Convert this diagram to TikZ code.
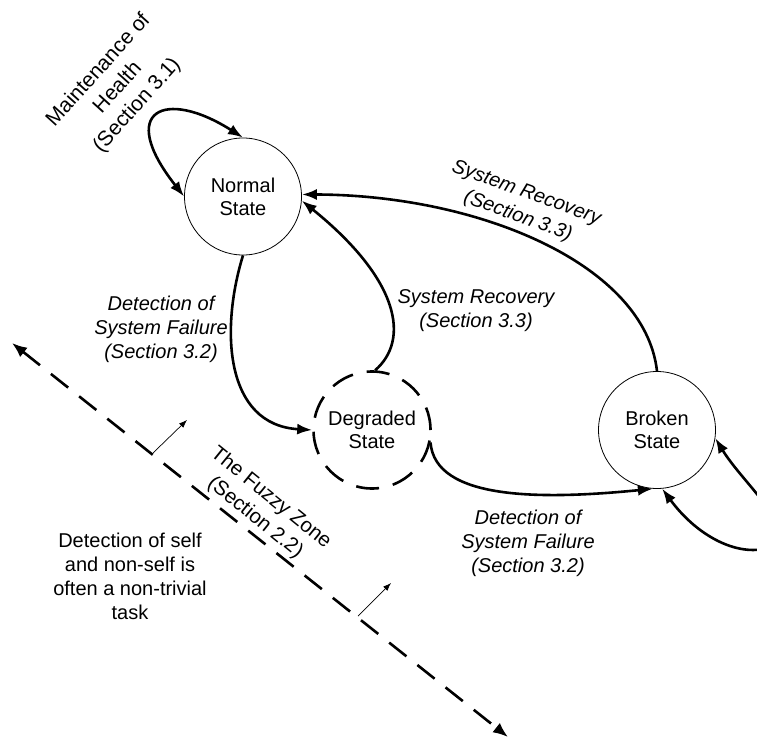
\documentclass[tikz,border=0pt]{standalone}
\usepackage{fontspec}
\setmainfont{Liberation Sans}
\usetikzlibrary{arrows.meta}
\begin{document}
\begin{tikzpicture}[x=1pt,y=-1pt,
  state/.style={circle,draw,line width=0.8pt,minimum size=117pt,inner sep=0pt,align=center,font=\fontsize{20}{23}\selectfont},
  degr/.style={state,line width=2.6pt,dash pattern=on 23pt off 14.1pt},
  edge/.style={line width=2.6pt,-{Latex[length=15pt,width=11pt]}},
  twoedge/.style={line width=2.6pt,{Latex[length=15pt,width=11pt]}-{Latex[length=15pt,width=11pt]}},
  lbl/.style={align=center,font=\fontsize{20}{24}\selectfont\itshape},
  txt/.style={align=center,font=\fontsize{20}{24}\selectfont},
  thinarrow/.style={line width=0.7pt,-{Latex[length=8pt,width=6pt]}},
  zone/.style={line width=2.6pt,dash pattern=on 22pt off 14pt,{Latex[length=15pt,width=12pt]}-{Latex[length=15pt,width=12pt]}}
]
\useasboundingbox (0,0) rectangle (757,738);

% states
\node[state] (N) at (243,196.5) {Normal\\State};
\node[degr]  (D) at (372,430) {Degraded\\State};
\node[state] (B) at (657,430) {Broken\\State};

% maintenance self loop
\draw[twoedge] (N.180) .. controls (116,110) and (165,88) .. (N.90);

% normal -> degraded
\draw[edge] (N.-90) .. controls (220,330) and (225,425) .. (D.180);

% degraded -> normal (recovery)
\draw[edge] (D.87) .. controls (410,340) and (400,280) .. (N.-4);

% broken -> normal (recovery)
\draw[edge] (B.90) .. controls (645,265) and (480,195) .. (N.2);

% degraded -> broken
\draw[edge] (D.-12) .. controls (435,500) and (540,500) .. (B.-94);

% broken self loop (clipped by picture edge)
\begin{scope}
\clip (0,0) rectangle (757,738);
\coordinate (bl) at (775,545);
\draw[twoedge] (B.-85) .. controls (700,540) and (745,560) .. (bl)
  .. controls (790,520) and (742,482) .. (B.-8);
\end{scope}

% fuzzy zone line
\coordinate (z1) at (12,343);
\coordinate (z2) at (508,737);
\draw[zone] (z1) -- (z2);

\coordinate (a1s) at (153,453);
\coordinate (a1e) at (187,420);
\coordinate (a2s) at (358,616);
\coordinate (a2e) at (391,583);
\draw[thinarrow] (a1s) -- (a1e);
\draw[thinarrow] (a2s) -- (a2e);

% labels
\node[txt,rotate=48,font=\fontsize{21}{26}\selectfont] (mh) at (118,88) {Maintenance of\\Health\\(Section 3.1)};
\node[lbl,rotate=-20,font=\fontsize{20}{25}\selectfont\itshape] (sr1) at (522,205) {System Recovery\\(Section 3.3)};
\node[lbl] (sr2) at (476,311) {System Recovery\\(Section 3.3)};
\node[lbl] (df1) at (161,329) {Detection of\\System Failure\\(Section 3.2)};
\node[lbl] (df2) at (528,543) {Detection of\\System Failure\\(Section 3.2)};
\node[txt,rotate=-39,font=\fontsize{20.5}{25}\selectfont] (fz) at (263,508) {The Fuzzy Zone\\(Section 2.2)};
\node[txt] (ds) at (130,576) {Detection of self\\and non-self is\\often a non-trivial\\task};
\end{tikzpicture}
\end{document}
